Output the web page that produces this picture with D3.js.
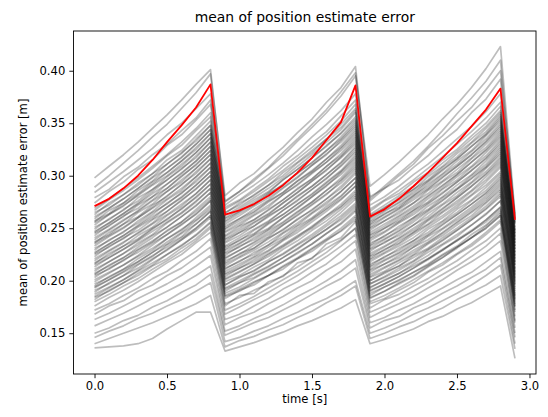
<!DOCTYPE html>
<html><head><meta charset="utf-8">
<script src="https://cdn.jsdelivr.net/npm/d3@7"></script>
<style>body{margin:0;background:#fff}svg{display:block}text{font-family:"DejaVu Sans",sans-serif}</style>
</head><body><svg id="c" width="548" height="417"></svg>
<script>
const times = [0.0,0.1,0.2,0.3,0.4,0.5,0.6,0.7,0.8,0.9,1.0,1.1,1.2,1.3,1.4,1.5,1.6,1.7,1.8,1.9,2.0,2.1,2.2,2.3,2.4,2.5,2.6,2.7,2.8,2.9];
const xTicks = [0.0,0.5,1.0,1.5,2.0,2.5,3.0];
const yTicks = [0.15,0.20,0.25,0.30,0.35,0.40];
const redRun = [.271,.278,.288,.300,.315,.332,.348,.365,.387,.263,.267,.273,.281,.291,.303,.317,.334,.351,.386,.261,.268,.278,.290,.303,.317,.331,.347,.363,.383,.258];
const grayRuns = [
[.136,.137,.138,.140,.145,.154,.162,.170,.170,.133,.137,.141,.146,.151,.157,.162,.168,.174,.182,.140,.144,.149,.154,.161,.166,.173,.179,.187,.195,.126],
[.140,.145,.150,.155,.160,.166,.172,.178,.186,.137,.143,.147,.153,.158,.165,.171,.179,.186,.195,.145,.150,.156,.161,.168,.174,.182,.189,.196,.205,.135],
[.146,.152,.157,.164,.169,.176,.182,.190,.198,.142,.146,.152,.157,.164,.170,.177,.183,.191,.200,.150,.155,.161,.168,.174,.181,.188,.196,.205,.215,.140],
[.150,.155,.162,.167,.175,.181,.189,.196,.206,.148,.154,.160,.165,.172,.179,.187,.195,.202,.212,.155,.162,.166,.174,.180,.188,.195,.203,.211,.222,.146],
[.157,.163,.169,.176,.183,.190,.197,.205,.214,.152,.157,.164,.170,.177,.185,.192,.200,.209,.220,.160,.165,.172,.178,.186,.193,.201,.208,.218,.228,.150],
[.163,.169,.176,.183,.190,.197,.205,.214,.224,.158,.165,.170,.178,.185,.193,.200,.210,.218,.230,.165,.172,.178,.185,.193,.201,.210,.218,.227,.238,.155],
[.168,.176,.181,.190,.196,.205,.212,.222,.232,.163,.168,.176,.183,.192,.199,.208,.216,.227,.238,.170,.176,.183,.190,.198,.206,.214,.223,.233,.245,.160],
[.172,.178,.186,.193,.202,.209,.219,.228,.240,.168,.175,.182,.189,.197,.205,.214,.223,.233,.244,.174,.182,.187,.195,.202,.211,.219,.229,.238,.250,.162],
[.176,.184,.191,.199,.208,.217,.225,.236,.246,.172,.178,.185,.193,.201,.209,.218,.227,.238,.250,.178,.183,.191,.198,.208,.215,.225,.233,.244,.256,.166],
[.180,.187,.195,.202,.211,.219,.228,.238,.250,.176,.186,.188,.199,.204,.217,.221,.235,.241,.256,.183,.190,.197,.204,.213,.222,.231,.241,.250,.262,.170],
[.182,.191,.198,.207,.215,.225,.233,.244,.256,.185,.190,.198,.205,.214,.222,.231,.240,.250,.262,.180,.186,.193,.201,.209,.217,.226,.235,.246,.258,.175],
[.184,.190,.198,.205,.214,.221,.231,.240,.252,.178,.184,.191,.197,.205,.213,.222,.231,.239,.250,.186,.194,.200,.208,.216,.225,.233,.244,.253,.266,.172],
[.185,.193,.201,.210,.220,.230,.239,.250,.262,.188,.194,.202,.210,.218,.226,.235,.245,.255,.268,.184,.190,.198,.205,.214,.222,.232,.241,.252,.264,.178],
[.187,.194,.201,.209,.217,.225,.234,.243,.255,.183,.191,.196,.205,.211,.221,.228,.238,.248,.260,.190,.197,.204,.212,.220,.229,.239,.248,.258,.270,.176],
[.189,.198,.205,.215,.223,.234,.242,.254,.266,.192,.198,.206,.213,.222,.230,.240,.249,.260,.272,.188,.194,.201,.208,.215,.224,.232,.241,.250,.262,.182],
[.191,.197,.205,.212,.221,.229,.239,.248,.260,.186,.192,.199,.205,.213,.221,.230,.239,.247,.258,.193,.201,.207,.216,.224,.234,.242,.253,.263,.276,.180],
[.193,.201,.209,.218,.227,.237,.246,.257,.268,.196,.203,.210,.218,.226,.235,.244,.254,.265,.278,.191,.197,.204,.212,.221,.229,.238,.247,.258,.270,.185],
[.194,.201,.208,.216,.224,.232,.241,.250,.262,.190,.198,.203,.211,.218,.227,.235,.245,.254,.266,.197,.204,.212,.219,.229,.238,.248,.258,.268,.280,.183],
[.195,.204,.211,.221,.229,.240,.248,.260,.272,.199,.205,.213,.220,.230,.238,.248,.257,.268,.280,.194,.200,.207,.214,.221,.230,.238,.247,.256,.268,.188],
[.197,.203,.211,.218,.227,.235,.245,.254,.266,.193,.200,.207,.214,.222,.231,.240,.249,.258,.270,.200,.208,.214,.224,.231,.241,.250,.260,.271,.284,.186],
[.199,.207,.215,.224,.234,.244,.253,.264,.276,.202,.209,.216,.225,.233,.242,.252,.262,.273,.286,.197,.203,.210,.218,.227,.235,.244,.253,.264,.276,.192],
[.201,.208,.215,.223,.231,.240,.249,.258,.270,.196,.204,.209,.218,.225,.234,.242,.252,.262,.274,.204,.212,.219,.227,.236,.245,.255,.265,.275,.288,.190],
[.203,.212,.219,.229,.237,.248,.256,.268,.280,.206,.212,.220,.228,.238,.246,.256,.266,.277,.290,.200,.207,.214,.222,.230,.239,.248,.258,.269,.282,.196],
[.205,.211,.220,.227,.236,.244,.254,.263,.276,.201,.208,.216,.223,.232,.241,.250,.260,.270,.282,.208,.216,.222,.232,.239,.249,.258,.268,.279,.292,.194],
[.206,.215,.222,.232,.241,.251,.261,.272,.284,.209,.216,.223,.232,.240,.250,.259,.269,.280,.294,.203,.209,.217,.225,.235,.243,.253,.262,.274,.286,.199],
[.207,.214,.222,.230,.238,.247,.256,.266,.278,.204,.212,.218,.226,.234,.243,.251,.262,.271,.284,.211,.219,.226,.234,.243,.253,.263,.273,.283,.296,.197],
[.209,.218,.226,.236,.244,.255,.264,.275,.288,.212,.218,.227,.234,.245,.253,.264,.273,.285,.298,.206,.213,.220,.229,.237,.246,.256,.266,.277,.290,.202],
[.211,.218,.226,.234,.243,.251,.261,.271,.284,.207,.214,.222,.229,.239,.248,.258,.268,.278,.290,.214,.223,.229,.238,.246,.256,.265,.276,.286,.300,.200],
[.213,.222,.230,.239,.249,.259,.268,.280,.292,.216,.223,.231,.240,.249,.258,.268,.278,.290,.304,.210,.216,.224,.232,.242,.250,.260,.270,.281,.294,.205],
[.215,.222,.230,.238,.247,.256,.265,.276,.288,.211,.219,.225,.234,.242,.252,.260,.271,.281,.294,.218,.226,.233,.241,.251,.260,.270,.281,.291,.304,.203],
[.216,.226,.233,.243,.251,.262,.271,.283,.296,.219,.225,.234,.242,.253,.262,.272,.282,.295,.308,.213,.220,.227,.236,.244,.254,.263,.273,.284,.298,.208],
[.217,.224,.233,.240,.250,.258,.269,.279,.292,.214,.222,.229,.237,.246,.255,.265,.275,.285,.298,.221,.230,.236,.246,.254,.265,.274,.285,.296,.310,.206],
[.219,.228,.236,.246,.255,.266,.276,.288,.300,.222,.229,.237,.246,.255,.265,.275,.286,.298,.312,.216,.222,.231,.238,.249,.257,.268,.277,.289,.302,.211],
[.221,.229,.237,.245,.254,.263,.273,.283,.296,.217,.226,.231,.241,.248,.259,.267,.278,.288,.302,.224,.232,.240,.248,.258,.268,.279,.290,.301,.314,.209],
[.223,.233,.240,.251,.259,.270,.279,.291,.304,.226,.232,.241,.249,.260,.269,.280,.290,.303,.316,.220,.227,.235,.244,.253,.262,.272,.282,.294,.308,.215],
[.225,.232,.241,.248,.258,.266,.277,.287,.300,.221,.229,.236,.244,.253,.263,.273,.283,.293,.306,.228,.237,.243,.253,.261,.272,.281,.293,.304,.318,.212],
[.226,.235,.243,.253,.263,.274,.283,.296,.308,.229,.236,.244,.254,.263,.273,.283,.294,.305,.320,.223,.229,.238,.246,.257,.266,.276,.286,.299,.312,.218],
[.227,.235,.243,.252,.261,.270,.280,.291,.304,.224,.233,.239,.248,.256,.266,.275,.286,.296,.310,.231,.239,.247,.256,.266,.276,.287,.297,.308,.322,.215],
[.229,.239,.246,.257,.266,.277,.286,.299,.312,.232,.238,.248,.256,.267,.276,.287,.297,.310,.324,.226,.233,.241,.250,.259,.269,.279,.290,.302,.316,.221],
[.231,.238,.247,.255,.265,.273,.284,.294,.308,.227,.235,.243,.250,.260,.270,.280,.291,.301,.314,.234,.243,.250,.260,.268,.279,.288,.300,.311,.326,.218],
[.233,.242,.250,.260,.270,.281,.291,.304,.316,.236,.243,.252,.261,.270,.280,.290,.301,.313,.328,.230,.236,.245,.253,.264,.273,.284,.294,.307,.320,.224],
[.235,.243,.251,.260,.269,.278,.288,.299,.312,.230,.239,.245,.255,.263,.273,.282,.293,.304,.318,.238,.246,.255,.263,.273,.283,.294,.305,.316,.330,.221],
[.236,.246,.254,.265,.273,.285,.294,.307,.320,.239,.246,.255,.263,.274,.284,.295,.305,.318,.332,.233,.240,.248,.258,.267,.277,.287,.298,.309,.324,.227],
[.237,.244,.254,.261,.272,.280,.292,.302,.316,.233,.241,.249,.257,.267,.277,.287,.298,.309,.322,.241,.250,.257,.267,.275,.287,.296,.308,.319,.334,.224],
[.239,.248,.257,.267,.277,.288,.299,.311,.324,.242,.250,.258,.267,.277,.287,.297,.309,.321,.336,.236,.242,.252,.260,.271,.280,.291,.301,.314,.328,.230],
[.241,.249,.258,.266,.276,.285,.296,.307,.320,.237,.246,.252,.262,.270,.281,.290,.301,.312,.326,.244,.252,.261,.269,.280,.290,.301,.313,.324,.338,.227],
[.243,.253,.261,.272,.280,.292,.302,.314,.328,.246,.253,.262,.270,.282,.291,.302,.313,.326,.340,.240,.247,.256,.265,.274,.284,.294,.305,.317,.332,.233],
[.245,.252,.262,.269,.280,.288,.300,.310,.324,.240,.248,.256,.264,.274,.284,.295,.306,.317,.330,.248,.257,.264,.274,.283,.294,.303,.316,.327,.342,.230],
[.246,.255,.264,.274,.285,.296,.306,.319,.332,.249,.257,.265,.275,.284,.295,.305,.316,.329,.344,.243,.250,.259,.267,.278,.288,.299,.309,.322,.336,.236],
[.247,.255,.264,.273,.283,.292,.303,.314,.328,.243,.252,.258,.268,.277,.288,.297,.309,.319,.334,.251,.260,.268,.277,.287,.298,.309,.320,.332,.346,.233],
[.249,.259,.267,.279,.287,.299,.309,.322,.336,.252,.259,.268,.277,.288,.298,.310,.320,.334,.348,.246,.254,.262,.271,.281,.291,.301,.313,.325,.340,.239],
[.251,.258,.268,.276,.287,.296,.307,.317,.332,.247,.255,.263,.272,.282,.292,.303,.313,.324,.338,.254,.264,.270,.281,.290,.301,.311,.323,.335,.350,.236],
[.253,.263,.271,.282,.292,.303,.314,.327,.340,.256,.264,.272,.282,.292,.302,.313,.324,.337,.352,.250,.257,.266,.274,.286,.295,.306,.317,.330,.344,.242],
[.255,.263,.272,.281,.291,.300,.311,.322,.336,.250,.259,.266,.276,.284,.295,.304,.316,.327,.342,.257,.266,.274,.283,.294,.305,.316,.328,.339,.354,.239],
[.256,.267,.274,.286,.295,.307,.317,.330,.344,.259,.266,.275,.284,.296,.306,.317,.328,.341,.356,.253,.261,.269,.279,.288,.299,.309,.320,.333,.348,.245],
[.257,.264,.274,.283,.294,.303,.314,.325,.340,.254,.262,.271,.279,.289,.299,.310,.321,.332,.346,.260,.270,.277,.287,.296,.308,.318,.331,.342,.358,.242],
[.259,.269,.278,.288,.299,.311,.321,.335,.348,.262,.270,.279,.288,.298,.309,.320,.332,.344,.360,.256,.263,.272,.281,.292,.302,.314,.324,.338,.352,.248],
[.261,.269,.278,.288,.298,.307,.318,.330,.344,.257,.266,.273,.283,.291,.303,.312,.324,.335,.350,.263,.272,.281,.290,.301,.312,.323,.335,.347,.362,.245],
[.263,.274,.282,.293,.302,.315,.324,.338,.352,.265,.272,.282,.291,.303,.313,.324,.335,.349,.364,.259,.267,.275,.285,.295,.306,.316,.328,.340,.356,.251],
[.265,.272,.282,.291,.302,.311,.322,.333,.348,.260,.268,.277,.285,.296,.306,.317,.329,.340,.354,.266,.276,.283,.294,.303,.315,.325,.338,.350,.366,.248],
[.267,.277,.286,.296,.307,.319,.329,.343,.356,.268,.276,.285,.295,.305,.316,.327,.339,.352,.368,.262,.269,.279,.287,.299,.309,.321,.332,.345,.360,.254],
[.269,.278,.288,.298,.309,.320,.332,.345,.360,.264,.274,.281,.291,.300,.312,.322,.335,.346,.362,.268,.277,.286,.296,.307,.318,.330,.342,.355,.370,.256],
[.274,.285,.294,.306,.315,.329,.339,.353,.368,.270,.277,.287,.297,.309,.319,.331,.342,.357,.372,.272,.280,.290,.301,.311,.323,.335,.347,.361,.378,.259],
[.279,.287,.299,.308,.320,.330,.343,.355,.372,.272,.282,.291,.301,.312,.324,.337,.349,.362,.378,.276,.288,.296,.308,.319,.333,.344,.360,.373,.392,.255],
[.284,.294,.304,.315,.326,.339,.350,.364,.378,.275,.285,.295,.307,.319,.333,.346,.360,.376,.395,.280,.288,.300,.311,.326,.338,.352,.365,.382,.400,.262],
[.289,.300,.312,.324,.337,.349,.364,.379,.397,.281,.293,.302,.315,.327,.341,.354,.370,.384,.404,.278,.290,.302,.314,.328,.343,.359,.374,.390,.410,.260],
[.298,.309,.320,.332,.345,.358,.372,.387,.401,.276,.285,.297,.308,.322,.335,.349,.363,.380,.398,.290,.301,.313,.326,.339,.354,.368,.384,.402,.423,.264]
];

const svg = d3.select("#c");
const L = 73.5, R = 536, T = 31, B = 374;
const allY = grayRuns.flat().concat(redRun);
const yMin = d3.min(allY), yMax = d3.max(allY);
const yPad = (yMax - yMin) * 0.05;
const xPad = (d3.max(times) - d3.min(times)) * 0.05;
const x = d3.scaleLinear().domain([d3.min(times) - xPad, d3.max(times) + xPad]).range([L, R]);
const y = d3.scaleLinear().domain([yMin - yPad, yMax + yPad]).range([B, T]);

const line = d3.line().x((d, i) => x(times[i])).y(d => y(d));
const plot = svg.append("g");
plot.selectAll("path.g").data(grayRuns).join("path")
  .attr("class", "g").attr("d", line)
  .attr("fill", "none").attr("stroke", "#000").attr("stroke-opacity", 0.26)
  .attr("stroke-width", 1.7).attr("stroke-linejoin", "round").attr("stroke-linecap", "butt");
plot.append("path").datum(redRun).attr("d", line)
  .attr("fill", "none").attr("stroke", "#ff0000").attr("stroke-width", 1.8).attr("stroke-linejoin", "round");

const xAxis = d3.axisBottom(x).tickValues(xTicks).tickFormat(d3.format(".1f")).tickSize(4.2).tickPadding(4);
const yAxis = d3.axisLeft(y).tickValues(yTicks).tickFormat(d3.format(".2f")).tickSize(4.2).tickPadding(4);
const gx = svg.append("g").attr("transform", `translate(0,${B})`).call(xAxis);
const gy = svg.append("g").attr("transform", `translate(${L},0)`).call(yAxis);
[gx, gy].forEach(g => {
  g.select(".domain").remove();
  g.selectAll("line").attr("stroke", "#000").attr("stroke-width", 0.9);
  g.selectAll("text").attr("fill", "#000").style("font-size", "11.6px").style("font-family", "DejaVu Sans");
});
svg.append("rect").attr("x", L).attr("y", T).attr("width", R - L).attr("height", B - T)
  .attr("fill", "none").attr("stroke", "#000").attr("stroke-width", 0.9);

svg.append("text").attr("x", (L + R) / 2).attr("y", 22).attr("text-anchor", "middle")
  .style("font-size", "13.9px").attr("fill", "#000").text("mean of position estimate error");
svg.append("text").attr("x", (L + R) / 2).attr("y", 403).attr("text-anchor", "middle")
  .style("font-size", "11.6px").attr("fill", "#000").text("time [s]");
svg.append("text").attr("transform", `translate(27,${(T + B) / 2}) rotate(-90)`).attr("text-anchor", "middle")
  .style("font-size", "11.6px").attr("fill", "#000").text("mean of position estimate error [m]");
</script></body></html>
